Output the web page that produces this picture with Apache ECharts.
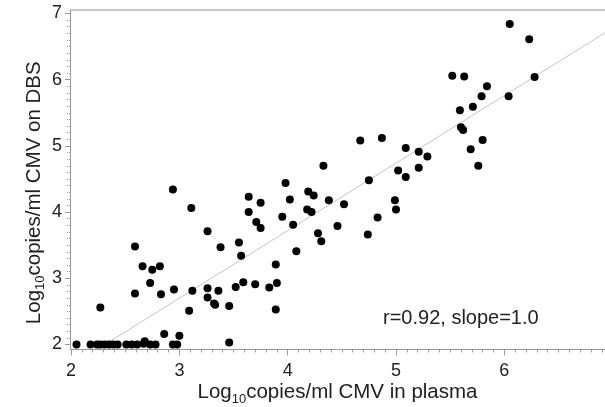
<!DOCTYPE html>
<html>
<head>
<meta charset="utf-8">
<script src="https://cdn.jsdelivr.net/npm/echarts@6/dist/echarts.min.js"></script>
<style>html,body{margin:0;padding:0;background:#fff}#c{width:605px;height:407px}</style>
</head>
<body>
<div id="c"></div>
<script>
// Log10 copies/ml CMV in plasma (x) vs on DBS (y)
const plasmaX = [2.05,2.18,2.24,2.27,2.31,2.35,2.39,2.43,2.27,2.51,2.56,2.61,2.68,2.67,2.73,2.78,2.59,2.59,2.66,2.75,2.82,2.73,2.83,2.86,2.94,2.95,2.94,2.98,3.00,3.09,3.11,3.12,3.26,3.26,3.26,3.38,3.32,3.33,3.36,3.46,3.46,3.52,3.59,3.55,3.57,3.64,3.64,3.71,3.75,3.75,3.70,3.83,3.90,3.89,3.89,3.95,3.98,4.02,4.05,4.08,4.19,4.24,4.18,4.22,4.28,4.31,4.33,4.38,4.46,4.52,4.67,4.87,4.75,4.74,4.83,4.99,5.00,5.02,5.09,5.09,5.21,5.21,5.29,5.52,5.63,5.59,5.60,5.62,5.71,5.79,5.84,5.80,5.69,5.76,6.05,6.23,6.04,6.28];
const dbsY    = [2.00,2.00,2.00,2.00,2.00,2.00,2.00,2.00,2.56,2.00,2.00,2.00,2.05,2.01,2.00,2.00,3.48,2.77,3.18,3.13,3.18,2.93,2.76,2.16,4.34,2.83,2.00,2.00,2.13,2.51,4.06,2.81,3.71,2.85,2.71,3.47,2.62,2.60,2.81,2.58,2.03,2.87,2.94,3.54,3.34,4.23,4.00,3.85,3.76,4.14,2.91,2.86,2.93,3.21,2.53,3.93,4.44,4.19,3.81,3.41,4.31,4.25,4.04,4.00,3.68,3.56,4.70,4.18,3.79,4.12,5.08,5.12,4.48,3.66,3.92,4.18,4.04,4.63,4.53,4.97,4.91,4.67,4.84,6.06,6.05,5.54,5.28,5.24,5.59,5.75,5.90,5.09,4.95,4.70,6.84,6.61,5.75,6.04];
// fitted line end points
const fitX = [2.26, 6.93];
const fitY = [1.945, 6.709];
const xTicks = [2,3,4,5,6];
const yTicks = [2,3,4,5,6,7];
const annotation = 'r=0.92, slope=1.0';

const X_MIN = 1.99, X_MAX = 6.93, Y_MIN = 1.924, Y_MAX = 7.053;
function minor(a, b){ const r=[]; for(let i=Math.ceil(a*10);i<=Math.floor(b*10);i++) r.push(i/10); return r; }

const font = '"Liberation Sans", Arial, sans-serif';
const axisColor = '#9a9a9a';
const chart = echarts.init(document.getElementById('c'), null, {renderer:'canvas'});
chart.setOption({
  animation: false,
  textStyle: {fontFamily: font},
  grid: {left: 70, right: 0, top: 10, bottom: 57.5, containLabel: false, outerBoundsMode: 'none'},
  xAxis: [
    {type:'value', min:X_MIN, max:X_MAX, position:'bottom',
     name:'{a|Log}{s|10}{a|copies/ml CMV in plasma}', nameLocation:'middle', nameGap:30, nameMoveOverlap:false,
     nameTextStyle:{rich:{a:{fontSize:20.5,lineHeight:26,color:'#222',fontFamily:font},s:{fontSize:13,lineHeight:13,verticalAlign:'bottom',color:'#222',fontFamily:font}}},
     axisLine:{show:true,lineStyle:{color:axisColor,width:1}},
     axisTick:{show:true,inside:false,length:6,customValues:xTicks,lineStyle:{color:axisColor}},
     axisLabel:{show:true,customValues:xTicks,margin:13,fontSize:18,color:'#222',fontFamily:font},
     splitLine:{show:false}},
    {type:'value', min:X_MIN, max:X_MAX, position:'bottom', gridIndex:0,
     axisLine:{show:false}, axisLabel:{show:false}, splitLine:{show:false},
     axisTick:{show:true,inside:false,length:3,customValues:minor(X_MIN,X_MAX),lineStyle:{color:axisColor}}},
    {type:'value', min:X_MIN, max:X_MAX, position:'top', gridIndex:0,
     axisLine:{show:true,lineStyle:{color:'#b8b8b8',width:1.5}}, axisLabel:{show:false}, axisTick:{show:false}, splitLine:{show:false}}
  ],
  yAxis: [
    {type:'value', min:Y_MIN, max:Y_MAX, position:'left',
     name:'{a|Log}{s|10}{a|copies/ml CMV on DBS}', nameLocation:'middle', nameGap:23, nameRotate:90, nameMoveOverlap:false,
     nameTextStyle:{padding:[0,26,0,0],rich:{a:{fontSize:20.5,lineHeight:26,color:'#222',fontFamily:font},s:{fontSize:13,lineHeight:13,verticalAlign:'bottom',color:'#222',fontFamily:font}}},
     axisLine:{show:true,lineStyle:{color:axisColor,width:1}},
     axisTick:{show:true,inside:false,length:5,customValues:yTicks,lineStyle:{color:axisColor}},
     axisLabel:{show:true,customValues:yTicks,margin:8,fontSize:18,color:'#222',fontFamily:font},
     splitLine:{show:false}},
    {type:'value', min:Y_MIN, max:Y_MAX, position:'left', gridIndex:0,
     axisLine:{show:false}, axisLabel:{show:false}, splitLine:{show:false},
     axisTick:{show:true,inside:false,length:3,customValues:minor(Y_MIN,Y_MAX),lineStyle:{color:axisColor,type:'dotted'}}}
  ],
  series: [
    {type:'line', xAxisIndex:0, yAxisIndex:0, data: fitX.map((x,i)=>[x,fitY[i]]), symbol:'none',
     lineStyle:{color:'#c4c4c4',width:1}, silent:true, z:1},
    {type:'scatter', xAxisIndex:0, yAxisIndex:0, data: plasmaX.map((x,i)=>[x,dbsY[i]]), symbol:'circle', symbolSize:8,
     itemStyle:{color:'#000', opacity:1}, z:2}
  ],
  graphic: [
    {type:'text', left:383, top:308, style:{text:annotation, font:'20px "Liberation Sans", Arial, sans-serif', fill:'#222'}}
  ]
});
</script>
</body>
</html>
